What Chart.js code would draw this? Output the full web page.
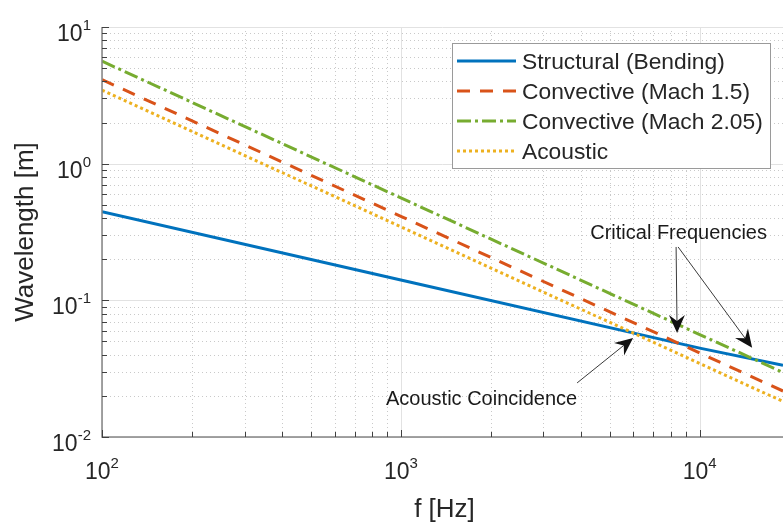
<!DOCTYPE html>
<html>
<head>
<meta charset="utf-8">
<script src="https://cdn.jsdelivr.net/npm/chart.js@4.4.1/dist/chart.umd.min.js"></script>
<style>
html, body { margin: 0; padding: 0; background: #fff; overflow: hidden; }
canvas { display: block; }
</style>
</head>
<body>
<canvas id="chart" width="783" height="522"></canvas>
<script>
const freqs = [100, 1000, 10000, 19000];
const structural = [0.445, 0.141, 0.0447, 0.0335];
const mach15 = [4.12, 0.412, 0.0412, 0.0217];
const mach205 = [5.62, 0.562, 0.0562, 0.0297];
const acoustic = [3.45, 0.345, 0.0345, 0.0182];

const seriesNames = ['Structural (Bending)', 'Convective (Mach 1.5)', 'Convective (Mach 2.05)', 'Acoustic'];
const seriesColors = ['#0072BD', '#D95319', '#77AC30', '#EDB120'];
const seriesDash = [[], [13, 10], [14, 4, 3, 4], [3, 3]];

const xTickPowers = [2, 3, 4];
const yTickPowers = [-2, -1, 0, 1];

// annotation arrows (data coords)
const arrowTailF = [8338, 8468, 3888];
const arrowTailL = [0.2458, 0.2458, 0.02487];
const arrowTipF = [8403, 14980, 5986];
const arrowTipL = [0.0577, 0.0449, 0.0531];
const noteText = ['Critical Frequencies', 'Acoustic Coincidence'];
const noteF = [8500, 1863];
const noteL = [0.2813, 0.01717];

const FONT = '"Liberation Sans", Arial, Helvetica, sans-serif';
const INK = '#262626';

function logTicks(min, max) {
  const out = [];
  for (let p = Math.floor(Math.log10(min)); p <= Math.ceil(Math.log10(max)); p++) {
    for (let m = 1; m < 10; m++) {
      const v = m * Math.pow(10, p);
      if (v >= min * 0.999 && v <= max * 1.001) out.push({ v, major: m === 1 });
    }
  }
  return out;
}

// "10" with a superscript exponent; align = 'center' or 'right'
function drawPow(ctx, x, base, exp, align) {
  ctx.font = '23px ' + FONT;
  const w1 = ctx.measureText('10').width;
  ctx.font = '15px ' + FONT;
  const w2 = ctx.measureText(exp).width;
  const start = align === 'right' ? x - w1 - w2 : x - (w1 + w2) / 2;
  ctx.textAlign = 'left';
  ctx.textBaseline = 'alphabetic';
  ctx.fillStyle = INK;
  ctx.font = '23px ' + FONT;
  ctx.fillText('10', start, base);
  ctx.font = '15px ' + FONT;
  ctx.fillText(exp, start + w1, base - 11);
}

function arrow(ctx, x0, y0, x1, y1) {
  const ang = Math.atan2(y1 - y0, x1 - x0);
  const len = 18, half = 8, notch = 12;
  const c = Math.cos(ang), s = Math.sin(ang);
  ctx.strokeStyle = '#3a3a3a';
  ctx.lineWidth = 1;
  ctx.beginPath();
  ctx.moveTo(x0, y0);
  ctx.lineTo(x1 - c * notch, y1 - s * notch);
  ctx.stroke();
  ctx.fillStyle = '#111';
  ctx.beginPath();
  ctx.moveTo(x1, y1);
  ctx.lineTo(x1 - c * len - s * half, y1 - s * len + c * half);
  ctx.lineTo(x1 - c * notch, y1 - s * notch);
  ctx.lineTo(x1 - c * len + s * half, y1 - s * len - c * half);
  ctx.closePath();
  ctx.fill();
}

const matlabAxes = {
  id: 'matlabAxes',
  beforeDatasetsDraw(chart) {
    const { ctx, chartArea: a, scales: { x, y } } = chart;
    ctx.save();
    ctx.lineWidth = 1;
    for (const major of [false, true]) {
      ctx.strokeStyle = major ? '#e2e2e2' : '#c9c9c9';
      ctx.setLineDash(major ? [] : [1, 3]);
      for (const t of logTicks(x.min, x.max)) {
        if (t.major !== major) continue;
        const px = Math.round(x.getPixelForValue(t.v)) + 0.5;
        ctx.beginPath(); ctx.moveTo(px, a.top); ctx.lineTo(px, a.bottom); ctx.stroke();
      }
      for (const t of logTicks(y.min, y.max)) {
        if (t.major !== major) continue;
        const py = Math.round(y.getPixelForValue(t.v)) + 0.5;
        ctx.beginPath(); ctx.moveTo(a.left, py); ctx.lineTo(a.right, py); ctx.stroke();
      }
    }
    ctx.restore();
  },
  afterDatasetsDraw(chart) {
    const { ctx, chartArea: a, scales: { x, y } } = chart;
    ctx.save();
    // axis lines + inward ticks
    ctx.strokeStyle = '#858585';
    ctx.lineWidth = 1.5;
    ctx.beginPath();
    ctx.moveTo(a.left, a.top); ctx.lineTo(a.left, a.bottom); ctx.lineTo(a.right, a.bottom);
    ctx.stroke();
    ctx.lineWidth = 1;
    ctx.strokeStyle = '#404040';
    for (const t of logTicks(x.min, x.max)) {
      const px = Math.round(x.getPixelForValue(t.v)) + 0.5;
      ctx.beginPath(); ctx.moveTo(px, a.bottom); ctx.lineTo(px, a.bottom - (t.major ? 7 : 5)); ctx.stroke();
    }
    for (const t of logTicks(y.min, y.max)) {
      const py = Math.round(y.getPixelForValue(t.v)) + 0.5;
      ctx.beginPath(); ctx.moveTo(a.left, py); ctx.lineTo(a.left + (t.major ? 7 : 5), py); ctx.stroke();
    }

    // tick labels
    xTickPowers.forEach(p => drawPow(ctx, x.getPixelForValue(Math.pow(10, p)), a.bottom + 42, String(p), 'center'));
    yTickPowers.forEach(p => drawPow(ctx, a.left - 11, y.getPixelForValue(Math.pow(10, p)) + 14, String(p), 'right'));

    // axis titles
    ctx.fillStyle = INK;
    ctx.font = '26px ' + FONT;
    ctx.textAlign = 'center';
    ctx.textBaseline = 'alphabetic';
    ctx.fillText('f [Hz]', (a.left + a.right) / 2 + 2, 517);
    ctx.save();
    ctx.translate(26, (a.top + a.bottom) / 2);
    ctx.rotate(-Math.PI / 2);
    ctx.textBaseline = 'middle';
    ctx.fillText('Wavelength [m]', 0, 0);
    ctx.restore();

    // annotations
    for (let i = 0; i < arrowTipF.length; i++) {
      arrow(ctx, x.getPixelForValue(arrowTailF[i]), y.getPixelForValue(arrowTailL[i]),
        x.getPixelForValue(arrowTipF[i]), y.getPixelForValue(arrowTipL[i]));
    }
    ctx.fillStyle = '#1a1a1a';
    ctx.font = '20px ' + FONT;
    ctx.textAlign = 'center';
    ctx.textBaseline = 'alphabetic';
    noteText.forEach((t, i) => ctx.fillText(t, x.getPixelForValue(noteF[i]), y.getPixelForValue(noteL[i])));

    // legend
    const lx = 452, ly = 43, lw = 318, lh = 125;
    ctx.fillStyle = '#fff';
    ctx.fillRect(lx, ly, lw, lh);
    ctx.strokeStyle = '#9a9a9a';
    ctx.lineWidth = 1;
    ctx.strokeRect(lx + 0.5, ly + 0.5, lw, lh);
    ctx.font = '22.8px ' + FONT;
    ctx.textAlign = 'left';
    chart.data.datasets.forEach((ds, i) => {
      const ry = ly + 18 + i * 30;
      ctx.strokeStyle = ds.borderColor;
      ctx.lineWidth = ds.borderWidth;
      ctx.setLineDash(ds.borderDash);
      ctx.beginPath(); ctx.moveTo(457, ry); ctx.lineTo(516, ry); ctx.stroke();
      ctx.setLineDash([]);
      ctx.fillStyle = INK;
      ctx.fillText(ds.label, 522, ry + 8);
    });
    ctx.restore();
  }
};

const curves = [structural, mach15, mach205, acoustic];

new Chart(document.getElementById('chart'), {
  type: 'scatter',
  data: {
    datasets: curves.map((vals, i) => ({
      label: seriesNames[i],
      data: freqs.map((f, j) => ({ x: f, y: vals[j] })),
      showLine: true,
      borderColor: seriesColors[i],
      backgroundColor: seriesColors[i],
      borderWidth: 3,
      borderDash: seriesDash[i],
      pointRadius: 0,
      order: 4 - i,
    })),
  },
  options: {
    responsive: false,
    animation: false,
    devicePixelRatio: 1,
    layout: { padding: { left: 102, top: 27, right: 0, bottom: 85 } },
    scales: {
      x: { type: 'logarithmic', min: 100, max: 19000, display: false },
      y: { type: 'logarithmic', min: 0.01, max: 10, display: false },
    },
    plugins: { legend: { display: false }, tooltip: { enabled: false } },
  },
  plugins: [matlabAxes],
});
</script>
</body>
</html>
